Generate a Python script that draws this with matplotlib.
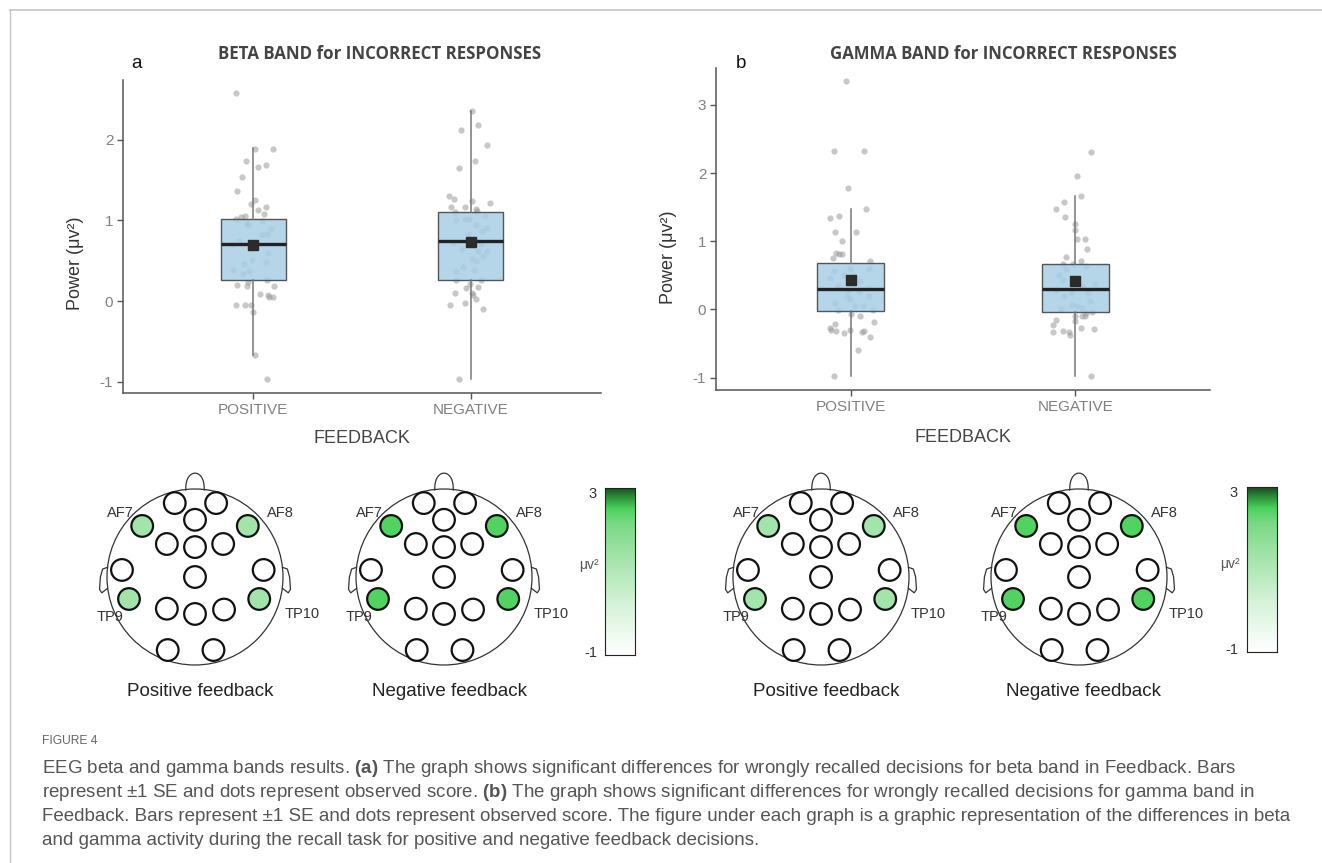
import numpy as np
import matplotlib
matplotlib.use("Agg")
import matplotlib.pyplot as plt
from matplotlib.colors import LinearSegmentedColormap, Normalize
from matplotlib.patches import Circle
from matplotlib.lines import Line2D

plt.rcParams['font.family'] = ['Liberation Sans', 'DejaVu Sans']
plt.rcParams['axes.unicode_minus'] = False
plt.rcParams['mathtext.fontset'] = 'custom'
plt.rcParams['mathtext.rm'] = 'Liberation Sans'
plt.rcParams['mathtext.bf'] = 'Liberation Sans:bold'

# ---------------- data ----------------
categories = ["POSITIVE", "NEGATIVE"]

beta_pos_jit = [-0.08, 0.006, 0.09, -0.035, 0.02, 0.06, -0.05, -0.077, 0.006, -0.012, 0.057, 0.023,
                0.049, -0.038, -0.055, -0.08, 0.038, -0.028, -0.025, 0.083, 0.065, 0.041, -0.066,
                -0.097, -0.012, 0.069, -0.008, 0.057, -0.044, -0.092, -0.02, -0.046, 0.064, -0.025,
                -0.077, -0.028, 0.095, 0.029, 0.067, 0.072, 0.09, -0.08, -0.038, -0.012, 0.0, 0.006, 0.064]
beta_pos_val = [2.58, 1.89, 1.88, 1.73, 1.66, 1.69, 1.54, 1.37, 1.25, 1.20, 1.17, 1.13,
                1.08, 1.06, 1.04, 1.02, 0.99, 0.97, 0.94, 0.89, 0.83, 0.82, 0.75,
                0.71, 0.65, 0.60, 0.51, 0.49, 0.46, 0.39, 0.37, 0.34, 0.26, 0.23,
                0.20, 0.19, 0.19, 0.09, 0.08, 0.05, 0.05, -0.05, -0.05, -0.05, -0.14, -0.67, -0.97]

beta_neg_jit = [0.005, -0.046, 0.035, 0.074, 0.018, -0.054, -0.1, -0.077, 0.005, 0.087, -0.092, -0.028,
                0.026, 0.028, -0.072, 0.064, -0.028, -0.008, -0.069, 0.026, 0.077, 0.054, -0.011,
                0.018, -0.081, 0.046, -0.04, 0.035, 0.077, 0.057, 0.005, 0.023, -0.069, -0.035,
                0.015, -0.069, -0.005, 0.049, -0.02, 0.035, 0.005, -0.074, 0.012, 0.026, -0.097,
                -0.026, 0.058, -0.054]
beta_neg_val = [2.36, 2.12, 2.18, 1.93, 1.73, 1.65, 1.30, 1.26, 1.24, 1.21, 1.17, 1.16,
                1.14, 1.12, 1.10, 1.05, 1.02, 1.02, 1.01, 0.94, 0.90, 0.87, 0.83,
                0.76, 0.72, 0.71, 0.64, 0.62, 0.62, 0.56, 0.52, 0.50, 0.37, 0.42,
                0.39, 0.26, 0.21, 0.26, 0.16, 0.17, 0.10, 0.10, 0.07, 0.02, -0.05,
                -0.02, -0.10, -0.97]

gamma_pos_jit = [-0.019, -0.073, 0.06, -0.01, 0.068, -0.094, -0.052, -0.069, 0.024, -0.037, -0.065, -0.052,
                 -0.081, -0.04, 0.084, 0.081, -0.073, -0.003, -0.094, -0.032, 0.016, 0.04, -0.056,
                 -0.011, 0.035, 0.077, 0.081, -0.016, -0.069, -0.003, 0.019, 0.056, -0.056, 0.097,
                 0.0, 0.04, 0.102, -0.068, -0.092, -0.089, -0.065, -0.003, -0.032, 0.052, 0.061,
                 0.085, 0.032, -0.076]
gamma_pos_val = [3.35, 2.32, 2.32, 1.78, 1.48, 1.34, 1.37, 1.13, 1.13, 1.01, 0.83, 0.82,
                 0.76, 0.81, 0.71, 0.59, 0.56, 0.59, 0.46, 0.51, 0.49, 0.42, 0.34,
                 0.28, 0.27, 0.32, 0.20, 0.20, 0.10, 0.16, 0.05, 0.05, -0.01, -0.01,
                 -0.06, -0.10, -0.19, -0.21, -0.27, -0.30, -0.32, -0.30, -0.35, -0.33, -0.32,
                 -0.41, -0.60, -0.98]

gamma_neg_jit = [0.068, 0.006, 0.027, -0.052, -0.085, -0.045, -0.003, -0.003, 0.008, 0.045, 0.053, -0.04,
                 0.027, -0.056, -0.008, 0.048, -0.04, -0.073, -0.056, 0.089, 0.032, -0.085, -0.021,
                 0.056, -0.048, 0.065, -0.016, 0.008, -0.065, 0.032, -0.003, 0.048, 0.073, 0.032,
                 -0.085, 0.045, 0.0, -0.1, 0.024, 0.084, -0.097, -0.056, -0.027, -0.024, 0.069]
gamma_neg_val = [2.31, 1.95, 1.66, 1.57, 1.48, 1.35, 1.25, 1.16, 1.04, 1.04, 0.89, 0.77,
                 0.71, 0.67, 0.67, 0.64, 0.60, 0.51, 0.43, 0.37, 0.35, 0.28, 0.24,
                 0.24, 0.20, 0.12, 0.07, 0.05, 0.0, 0.02, -0.09, -0.05, -0.04, -0.10,
                 -0.15, -0.10, -0.17, -0.22, -0.27, -0.28, -0.33, -0.31, -0.33, -0.38, -0.98]

# box statistics: [POSITIVE, NEGATIVE]
beta_q1 = [0.26, 0.26]
beta_med = [0.71, 0.74]
beta_q3 = [1.02, 1.10]
beta_mean = [0.69, 0.73]
beta_whislo = [-0.67, -0.97]
beta_whishi = [1.90, 2.36]

gamma_q1 = [-0.015, -0.04]
gamma_med = [0.30, 0.30]
gamma_q3 = [0.685, 0.67]
gamma_mean = [0.43, 0.415]
gamma_whislo = [-0.97, -0.97]
gamma_whishi = [1.47, 1.66]

# topographic maps: electrode values (missing = not shown / white)
electrode_names = ["Fp1", "Fp2", "AFz", "AF7", "AF8", "F3", "Fz", "F4", "T7", "Cz", "T8",
                   "TP9", "TP10", "P3", "Pz", "P4", "O1", "O2"]
labelled = ["AF7", "AF8", "TP9", "TP10"]
beta_pos_map = {"AF7": 1.3, "AF8": 1.3, "TP9": 1.3, "TP10": 1.3}
beta_neg_map = {"AF7": 2.45, "AF8": 2.45, "TP9": 2.45, "TP10": 2.45}
gamma_pos_map = {"AF7": 1.3, "AF8": 1.3, "TP9": 1.3, "TP10": 1.3}
gamma_neg_map = {"AF7": 2.45, "AF8": 2.45, "TP9": 2.45, "TP10": 2.45}
cbar_ticks = [3, -1]

caption_lines = [
    r"EEG beta and gamma bands results. $\mathbf{(a)}$ The graph shows significant differences for wrongly recalled decisions for beta band in Feedback. Bars",
    r"represent ±1 SE and dots represent observed score. $\mathbf{(b)}$ The graph shows significant differences for wrongly recalled decisions for gamma band in",
    "Feedback. Bars represent ±1 SE and dots represent observed score. The figure under each graph is a graphic representation of the differences in beta",
    "and gamma activity during the recall task for positive and negative feedback decisions.",
]

# ---------------- layout helpers ----------------
W, H = 1322, 863
fig = plt.figure(figsize=(W / 100, H / 100), dpi=100)
renderer = fig.canvas.get_renderer()


def ax_px(l, t, r, b):
    return fig.add_axes([l / W, 1 - b / H, (r - l) / W, (b - t) / H])


def ftxt(x, y, s, **kw):
    return fig.text(x / W, 1 - y / H, s, **kw)


def fit(t, width):
    w = t.get_window_extent(renderer).width
    t.set_fontsize(t.get_fontsize() * width / w)
    return t.get_fontsize()


# border
fig.add_artist(Line2D([10 / W, 1], [1 - 10 / H, 1 - 10 / H], color='#c4c4c4', lw=1.2,
                      transform=fig.transFigure))
fig.add_artist(Line2D([10 / W, 10 / W], [1 - 10 / H, 0], color='#c4c4c4', lw=1.0,
                      transform=fig.transFigure))

# ---------------- box panels ----------------
def boxpanel(box, jits, vals, q1, med, q3, mean, wlo, whi, ylim, yticks):
    ax = ax_px(*box)
    for i, (j, v) in enumerate(zip(jits, vals)):
        ax.scatter(np.array(j) + i + 1, v, s=20, color='#9a9a9a', alpha=0.55, lw=0, zorder=1)
    stats = []
    for i in range(2):
        stats.append(dict(q1=q1[i], med=med[i], q3=q3[i], mean=mean[i],
                          whislo=wlo[i], whishi=whi[i], fliers=[]))
    ax.bxp(stats, positions=[1, 2], widths=0.3, patch_artist=True, showmeans=True,
           showcaps=False, showfliers=False,
           boxprops=dict(facecolor=(0.66, 0.81, 0.90, 0.85), edgecolor='#555555', lw=1.0),
           medianprops=dict(color='#222222', lw=2.4),
           whiskerprops=dict(color='#777777', lw=1.1),
           meanprops=dict(marker='s', markerfacecolor='#2b2b2b', markeredgecolor='#2b2b2b',
                          markersize=7.5),
           zorder=2)
    ax.set_xlim(0.4, 2.6)
    ax.set_ylim(*ylim)
    ax.set_xticks([1, 2])
    ax.set_xticklabels(categories)
    ax.set_yticks(yticks)
    ax.set_yticklabels([str(v) for v in yticks])
    for s in ['top', 'right']:
        ax.spines[s].set_visible(False)
    for s in ['left', 'bottom']:
        ax.spines[s].set_color('#555555')
        ax.spines[s].set_linewidth(1.1)
    ax.tick_params(length=4, width=1, color='#555555', labelcolor='#808080', labelsize=11, pad=3)
    ax.set_facecolor('none')
    return ax


boxpanel((123, 80, 601, 393), [beta_pos_jit, beta_neg_jit], [beta_pos_val, beta_neg_val],
         beta_q1, beta_med, beta_q3, beta_mean, beta_whislo, beta_whishi,
         (-1.14, 2.74), [-1, 0, 1, 2])
boxpanel((716, 68, 1210, 390), [gamma_pos_jit, gamma_neg_jit], [gamma_pos_val, gamma_neg_val],
         gamma_q1, gamma_med, gamma_q3, gamma_mean, gamma_whislo, gamma_whishi,
         (-1.18, 3.54), [-1, 0, 1, 2, 3])

t = ftxt(380, 54, "BETA BAND for INCORRECT RESPONSES", ha='center', va='center',
         fontsize=10, weight='bold', color='#444444', family=['Open Sans', 'DejaVu Sans'])
fit(t, 323)
t = ftxt(1003, 54, "GAMMA BAND for INCORRECT RESPONSES", ha='center', va='center',
         fontsize=10, weight='bold', color='#444444', family=['Open Sans', 'DejaVu Sans'])
fit(t, 346)
ftxt(137, 64, "a", ha='center', va='center', fontsize=13.5, color='#111111')
ftxt(741, 63, "b", ha='center', va='center', fontsize=13.5, color='#111111')
ftxt(75, 263, "Power (μv²)", rotation=90, ha='center', va='center', fontsize=13, color='#333333')
ftxt(668, 257, "Power (μv²)", rotation=90, ha='center', va='center', fontsize=13, color='#333333')
ftxt(362, 438, "FEEDBACK", ha='center', va='center', fontsize=13, color='#444444')
ftxt(963, 437, "FEEDBACK", ha='center', va='center', fontsize=13, color='#444444')

# ---------------- topographic heads ----------------
cmap = LinearSegmentedColormap.from_list('grn', [
    (0.0, '#ffffff'), (0.3, '#d6f3d9'), (0.6, '#9fe3a6'), (0.78, '#7ad985'),
    (0.87, '#4dd35e'), (0.93, '#2f9c3e'), (1.0, '#1a4a22')])
norm = Normalize(-1, 3)

electrode_pos = [(-0.23, 0.84), (0.24, 0.84), (0.0, 0.65), (-0.60, 0.58), (0.60, 0.58),
                 (-0.32, 0.375), (0.0, 0.34), (0.32, 0.375),
                 (-0.83, 0.08), (0.0, 0.0), (0.78, 0.08),
                 (-0.75, -0.25), (0.73, -0.25),
                 (-0.32, -0.36), (0.0, -0.42), (0.33, -0.37),
                 (-0.31, -0.83), (0.21, -0.83)]
label_pos = {"AF7": (-0.69, 0.73, 'right'), "AF8": (0.82, 0.73, 'left'),
             "TP9": (-0.81, -0.45, 'right'), "TP10": (1.02, -0.42, 'left')}


def head(cx, cy, values, title, R=88):
    ax = ax_px(cx - 1.3 * R, cy - 1.25 * R, cx + 1.3 * R, cy + 1.15 * R)
    ax.set_xlim(-1.3, 1.3)
    ax.set_ylim(-1.15, 1.25)
    ax.set_aspect('equal')
    ax.axis('off')
    ax.add_patch(Circle((0, 0), 1, fill=False, ec='#333333', lw=0.9))
    tt = np.linspace(0, np.pi, 60)
    ax.plot(0.105 * np.cos(tt), 0.99 + 0.19 * np.sin(tt) ** 0.8, color='#333333', lw=0.9)
    ear = np.array([(-0.995, 0.11), (-1.05, 0.09), (-1.075, 0.0), (-1.085, -0.14),
                    (-1.06, -0.18), (-0.995, -0.13)])
    ax.plot(ear[:, 0], ear[:, 1], color='#333333', lw=0.9)
    ax.plot(-ear[:, 0], ear[:, 1], color='#333333', lw=0.9)
    for name, (x, y) in zip(electrode_names, electrode_pos):
        v = values.get(name)
        fc = cmap(norm(v)) if v is not None else 'white'
        ax.add_patch(Circle((x, y), 0.123, fc=fc, ec='#111111', lw=1.6, zorder=3))
    for name in labelled:
        x, y, ha = label_pos[name]
        ax.text(x, y, name, ha=ha, va='center', fontsize=10.5, color='#333333')
    ftxt(cx + 5, 691, title, ha='center', va='center', fontsize=13.5, color='#222222')


head(195, 577, beta_pos_map, "Positive feedback")
head(444, 577, beta_neg_map, "Negative feedback")
head(821, 577, gamma_pos_map, "Positive feedback")
head(1079, 577, gamma_neg_map, "Negative feedback")


def colorbar(l, t, r, b, lab_x):
    ax = ax_px(l, t, r, b)
    grad = np.linspace(-1, 3, 256).reshape(-1, 1)
    ax.imshow(grad, aspect='auto', cmap=cmap, norm=norm, origin='lower', extent=(0, 1, -1, 3))
    ax.set_xticks([])
    ax.set_yticks([])
    for s in ax.spines.values():
        s.set_linewidth(0.8)
        s.set_color('#222222')
    ftxt(lab_x, t + 6, str(cbar_ticks[0]), ha='right', va='center', fontsize=10.5, color='#333333')
    ftxt(lab_x, b - 2, str(cbar_ticks[1]), ha='right', va='center', fontsize=10.5, color='#333333')
    ftxt(lab_x + 2, (t + b) / 2 - 6, "μv²", ha='right', va='center', fontsize=10, color='#555555')


colorbar(605, 488, 635, 655, 597)
colorbar(1247, 487, 1277, 652, 1238)

# ---------------- caption ----------------
t = ftxt(42, 741, "FIGURE 4", ha='left', va='center', fontsize=8, color='#666666',
         family=['Liberation Sans Narrow', 'Liberation Sans'])
fit(t, 55)
t3 = ftxt(42, 816, caption_lines[2], ha='left', va='center', fontsize=12, color='#555555',
          family=['Liberation Sans Narrow', 'Liberation Sans'])
fs = fit(t3, 1256)
for i, yy in zip([0, 1, 3], [768, 792, 840]):
    ftxt(42, yy, caption_lines[i], ha='left', va='center', fontsize=fs, color='#555555',
         family=['Liberation Sans Narrow', 'Liberation Sans'])

fig.savefig("out.png", dpi=100)
